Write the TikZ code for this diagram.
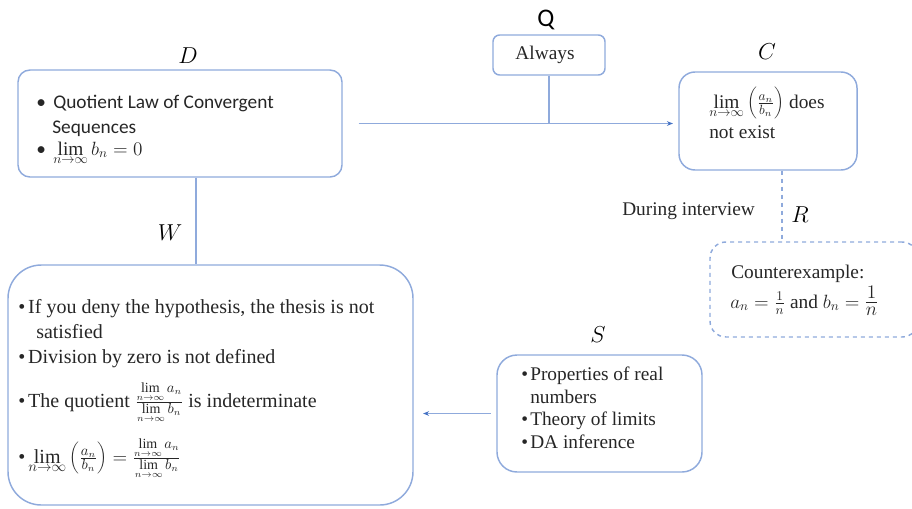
\documentclass[tikz,border=0pt]{standalone}
\usepackage{fontspec}
\setmainfont{Liberation Serif}
\newfontfamily\calibri{Carlito}
\usetikzlibrary{arrows.meta,fit,calc}
\definecolor{boxblue}{RGB}{143,170,220}
\definecolor{arrowblue}{RGB}{68,114,196}
\newcommand{\wb}{\makebox[7.5pt][l]{\textbullet}}
\newcommand{\db}{\makebox[12.75pt][l]{\textbullet}}
\newcommand{\sbul}{\makebox[6.75pt][l]{\textbullet}}
\begin{document}
\begin{tikzpicture}[x=0.75pt,y=-0.75pt,
  box/.style={draw=boxblue, line width=1.1pt, inner sep=0pt},
  conn/.style={draw=boxblue, line width=0.9pt},
  arr/.style={conn, -{Stealth[length=4.5pt,width=3.5pt,color=arrowblue]}},
  lab/.style={inner sep=0pt, font=\fontsize{19}{19}\selectfont},
  txt/.style={anchor=base west, inner sep=0pt, text=black!85, font=\fontsize{14.5}{17}\selectfont},
  wtxt/.style={txt, font=\fontsize{15}{18}\selectfont},
  stxt/.style={txt, font=\calibri\fontsize{14.5}{17}\selectfont}]
\useasboundingbox (0,0) rectangle (912,508);
% D
\node[box, rounded corners=9pt, fit={(18,70)(342,177)}] (D) {};
\node[lab] (Dl) at (188,56) {$D$};
\node[stxt] (d1) at (36,108) {\db Quotient Law of Convergent};
\node[stxt] (d2) at (52,133) {Sequences};
\node[stxt] (d3) at (36,155) {\db$\lim\limits_{n\to\infty} b_n = 0$};
% Q
\node[box, rounded corners=5pt, fit={(493,35)(605,75)}] (Q) {};
\node[lab, font=\calibri\fontsize{19}{19}\selectfont] (Ql) at (546,20) {Q};
\node[txt, anchor=center] (q1) at (545,55) {Always};
% C
\node[box, rounded corners=12pt, fit={(679,72)(857,170)}] (C) {};
\node[lab] (Cl) at (767,52) {$C$};
\node[txt] (c1) at (709,108) {$\lim\limits_{n\to\infty}\left(\frac{a_n}{b_n}\right)$ does};
\node[txt] (c2) at (709,138) {not exist};
% R
\node[box, dashed, rounded corners=12pt, fit={(710,242)(918,337)}] (R) {};
\node[lab] (Rl) at (800,215) {$R$};
\node[txt] (r1) at (731,278) {Counterexample:};
\node[txt] (r2) at (730,308) {$a_n=\frac{1}{n}$ and $b_n=$ {\fontsize{19}{19}\selectfont$\frac{1}{n}$}};
\node[txt] (di) at (622,215) {During interview};
% W
\node[box, rounded corners=25pt, fit={(8,265)(413,505)}] (W) {};
\node[lab] (Wl) at (170,233) {$W$};
\node[wtxt] (w1) at (18,313) {\wb If you deny the hypothesis, the thesis is not};
\node[wtxt] (w2) at (36,338) {satisfied};
\node[wtxt] (w3) at (18,363) {\wb Division by zero is not defined};
\node[wtxt] (w4) at (18,407) {\wb The quotient $\frac{\lim\limits_{n\to\infty} a_n}{\lim\limits_{n\to\infty} b_n}$ is indeterminate};
\node[wtxt] (w5) at (18,463) {\wb$\lim\limits_{n\to\infty}\left(\frac{a_n}{b_n}\right)=\frac{\lim\limits_{n\to\infty} a_n}{\lim\limits_{n\to\infty} b_n}$};
% S
\node[box, rounded corners=15pt, fit={(497,355)(702,472)}] (S) {};
\node[lab] (Sl) at (598,335) {$S$};
\node[txt] (s1) at (521,380) {\sbul Properties of real};
\node[txt] (s2) at (530,403) {numbers};
\node[txt] (s3) at (521,425) {\sbul Theory of limits};
\node[txt] (s4) at (521,448) {\sbul DA inference};
% connectors
\coordinate (dw) at (196,0);
\coordinate (cr) at (782,0);
\draw[arr] ([xshift=12pt]D.east) -- ([xshift=-4pt]D.east -| C.west);
\draw[conn] (Q.south) -- (Q.south |- D.east);
\draw[conn] (D.south -| dw) -- (W.north -| dw);
\draw[conn, dashed] (C.south -| cr) -- (R.north -| cr);
\draw[arr] ([xshift=-4pt]S.west) -- ([xshift=7pt]S.west -| W.east);
\end{tikzpicture}
\end{document}
